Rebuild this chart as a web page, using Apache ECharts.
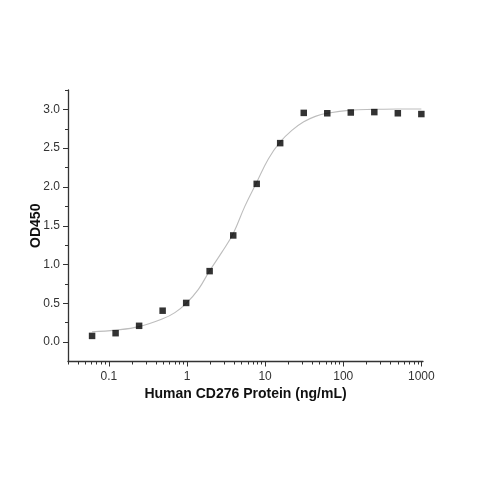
<!DOCTYPE html>
<html>
<head>
<meta charset="utf-8">
<script src="https://cdn.jsdelivr.net/npm/echarts@6/dist/echarts.min.js"></script>
<style>
html,body{margin:0;padding:0;background:#fff;}
#chart{width:479px;height:479px;}
</style>
</head>
<body>
<div id="chart"></div>
<script>
// Measured points
const concentrations = [0.061, 0.122, 0.244, 0.488, 0.977, 1.95, 3.91, 7.81, 15.6, 31.25, 62.5, 125, 250, 500, 1000];
const od450 = [0.08, 0.115, 0.21, 0.405, 0.505, 0.915, 1.375, 2.04, 2.565, 2.955, 2.95, 2.96, 2.965, 2.95, 2.94];

// Fitted curve
const curveConc = [0.061, 0.122, 0.244, 0.488, 0.7, 0.977, 1.4, 1.95, 2.8, 3.91, 5.5, 7.81, 11, 15.6, 22, 31.25, 44, 62.5, 125, 250, 500, 1000];
const curveOD = [0.133, 0.155, 0.2, 0.3, 0.38, 0.5, 0.68, 0.92, 1.16, 1.40, 1.75, 2.06, 2.36, 2.58, 2.73, 2.84, 2.91, 2.95, 2.99, 3.0, 3.005, 3.005];

// Axis ticks and labels
const xMajorTicks = [0.1, 1, 10, 100, 1000];
const xMinorTicks = [0.03, 0.04, 0.05, 0.06, 0.07, 0.08, 0.09,
  0.2, 0.3, 0.4, 0.5, 0.6, 0.7, 0.8, 0.9,
  2, 3, 4, 5, 6, 7, 8, 9,
  20, 30, 40, 50, 60, 70, 80, 90,
  200, 300, 400, 500, 600, 700, 800, 900];
const yMajorTicks = [0, 0.5, 1.0, 1.5, 2.0, 2.5, 3.0];
const yMinorTicks = [0.25, 0.75, 1.25, 1.75, 2.25, 2.75, 3.25];

const xName = 'Human CD276 Protein (ng/mL)';
const yName = 'OD450';

const FONT = "'Liberation Sans', Arial, sans-serif";
const AX = '#333';

const chart = echarts.init(document.getElementById('chart'), null, {renderer: 'canvas'});

const xMin = 0.03, xMax = 1050, yMin = -0.25, yMax = 3.25;

chart.setOption({
  animation: false,
  backgroundColor: '#fff',
  grid: {left: 68, right: 56, top: 90, bottom: 117.5, containLabel: false, outerBoundsMode: 'none'},
  xAxis: [
    {
      type: 'log', logBase: 10, min: xMin, max: xMax, position: 'bottom',
      name: xName, nameLocation: 'middle', nameGap: 26,
      nameTextStyle: {fontFamily: FONT, fontSize: 14, fontWeight: 'bold', color: '#111'},
      axisLine: {show: true, onZero: false, lineStyle: {color: AX, width: 1.3}},
      axisTick: {show: true, inside: false, length: 5, customValues: xMajorTicks, lineStyle: {color: AX, width: 1}},
      axisLabel: {show: true, margin: 9, customValues: xMajorTicks, fontFamily: FONT, fontSize: 12, color: '#333',
        formatter: v => String(parseFloat(Number(v).toPrecision(6)))},
      splitLine: {show: false},
      minorTick: {show: false}
    },
    {
      type: 'log', logBase: 10, min: xMin, max: xMax, position: 'bottom',
      axisLine: {show: false, onZero: false},
      axisTick: {show: true, inside: false, length: 3, customValues: xMinorTicks, lineStyle: {color: AX, width: 1}},
      axisLabel: {show: false},
      splitLine: {show: false}
    }
  ],
  yAxis: [
    {
      type: 'value', min: yMin, max: yMax, position: 'left',
      name: yName, nameLocation: 'middle', nameGap: 25, nameRotate: 90, nameMoveOverlap: false,
      nameTextStyle: {fontFamily: FONT, fontSize: 14, fontWeight: 'bold', color: '#111'},
      axisLine: {show: true, onZero: false, lineStyle: {color: AX, width: 1.3}},
      axisTick: {show: true, inside: false, length: 5, customValues: yMajorTicks, lineStyle: {color: AX, width: 1}},
      axisLabel: {show: true, margin: 8, customValues: yMajorTicks, fontFamily: FONT, fontSize: 12, color: '#333',
        formatter: v => Number(v).toFixed(1)},
      splitLine: {show: false}
    },
    {
      type: 'value', min: yMin, max: yMax, position: 'left',
      axisLine: {show: false, onZero: false},
      axisTick: {show: true, inside: false, length: 3, customValues: yMinorTicks, lineStyle: {color: AX, width: 1}},
      axisLabel: {show: false},
      splitLine: {show: false}
    }
  ],
  series: [
    {
      type: 'line', xAxisIndex: 0, yAxisIndex: 0,
      data: curveConc.map((c, i) => [c, curveOD[i]]),
      smooth: 0.4, showSymbol: false, symbol: 'none',
      lineStyle: {color: '#bdbdbd', width: 1.1},
      z: 2
    },
    {
      type: 'scatter', xAxisIndex: 0, yAxisIndex: 0,
      data: concentrations.map((c, i) => [c, od450[i]]),
      symbol: 'rect', symbolSize: 6.5,
      itemStyle: {color: '#000'},
      z: 3
    }
  ]
});
</script>
</body>
</html>
